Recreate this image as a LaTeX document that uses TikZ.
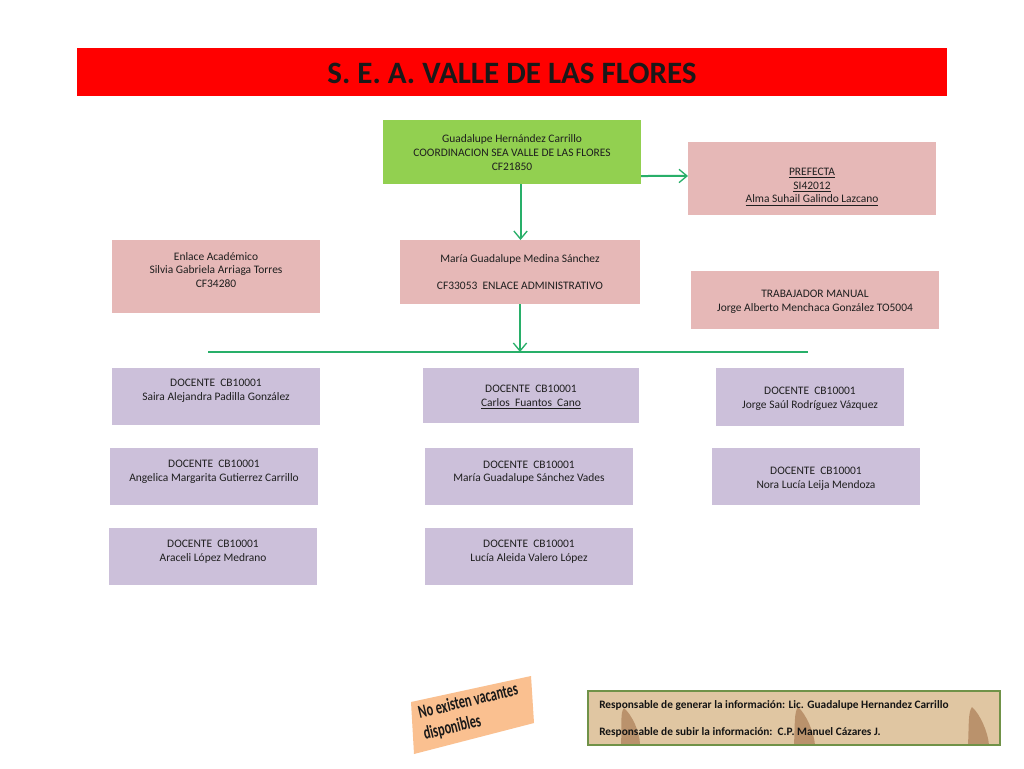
\documentclass[tikz,border=0pt]{standalone}
\usepackage{fontspec}
\setmainfont{Carlito}
\usetikzlibrary{arrows.meta,calc}
\definecolor{titlered}{RGB}{255,0,0}
\definecolor{boxgreen}{RGB}{146,208,80}
\definecolor{boxpink}{RGB}{230,184,183}
\definecolor{boxlav}{RGB}{204,192,218}
\definecolor{peach}{RGB}{250,192,144}
\definecolor{linkgreen}{RGB}{40,175,105}
\definecolor{parch}{RGB}{224,198,162}
\definecolor{frame}{RGB}{112,146,72}
\definecolor{fossil}{RGB}{150,95,55}
\tikzset{
  px/.style={x=0.75pt,y=-0.75pt},
  boxbase/.style={inner sep=0pt,outer sep=0pt,anchor=north west},
  greenbox/.style={boxbase,fill=boxgreen},
  pinkbox/.style={boxbase,fill=boxpink},
  lavbox/.style={boxbase,fill=boxlav},
  lbl/.style={align=center,font=\fontsize{8.6}{10.2}\selectfont,text=black!88,inner sep=0pt},
  footlbl/.style={font=\bfseries\fontsize{8.5}{10}\selectfont,text=black!92,inner sep=0pt,anchor=west},
  blob/.style={fill=fossil,opacity=.5},
  link/.style={draw=linkgreen,line width=1.5pt,-{Straight Barb[length=6pt,width=10pt,line width=1pt]}}
}
\begin{document}
\begin{tikzpicture}[px]
\useasboundingbox (0,0) rectangle (1024,768);
\fill[white] (0,0) rectangle (1024,768);

\node[boxbase,fill=titlered,minimum width=870*0.75pt,minimum height=48*0.75pt] (title) at (77,48) {};
\node[font=\bfseries\fontsize{23.3}{26}\selectfont,text=black!90,inner sep=0pt] (ttitle) at (512,73) {S. E. A. VALLE DE LAS FLORES};

\node[greenbox,minimum width=258*0.75pt,minimum height=64*0.75pt] (coord) at (383,120) {};
\node[pinkbox,minimum width=248*0.75pt,minimum height=73*0.75pt] (pref) at (688,142) {};
\node[pinkbox,minimum width=208*0.75pt,minimum height=73*0.75pt] (enl) at (112,240) {};
\node[pinkbox,minimum width=240*0.75pt,minimum height=64*0.75pt] (maria) at (400,240) {};
\node[pinkbox,minimum width=248*0.75pt,minimum height=58*0.75pt] (trab) at (691,271) {};
\node[lavbox,minimum width=208*0.75pt,minimum height=57*0.75pt] (d1) at (112,368) {};
\node[lavbox,minimum width=216*0.75pt,minimum height=55*0.75pt] (d2) at (423,368) {};
\node[lavbox,minimum width=188*0.75pt,minimum height=58*0.75pt] (d3) at (716,368) {};
\node[lavbox,minimum width=208*0.75pt,minimum height=57*0.75pt] (d4) at (110,448) {};
\node[lavbox,minimum width=208*0.75pt,minimum height=57*0.75pt] (d5) at (425,448) {};
\node[lavbox,minimum width=208*0.75pt,minimum height=57*0.75pt] (d6) at (712,448) {};
\node[lavbox,minimum width=208*0.75pt,minimum height=57*0.75pt] (d7) at (109,528) {};
\node[lavbox,minimum width=208*0.75pt,minimum height=57*0.75pt] (d8) at (425,528) {};

\node[lbl] (tcoord) at (512,152.5) {Guadalupe Hernández Carrillo\\COORDINACION SEA VALLE DE LAS FLORES\\CF21850};
\node[lbl] (tpref) at (812,187) {\underline{PREFECTA}\\\underline{SI42012}\\\underline{Alma Suhail Galindo Lazcano}};
\node[lbl] (tenl) at (216,270) {Enlace Académico\\Silvia Gabriela Arriaga Torres\\CF34280};
\node[lbl] (tmaria) at (520,272) {María Guadalupe Medina Sánchez\\[10pt]CF33053\ \ ENLACE ADMINISTRATIVO};
\node[lbl] (ttrab) at (815,302) {TRABAJADOR MANUAL\\Jorge Alberto Menchaca González TO5004};
\node[lbl] (t1) at (216,391) {DOCENTE\ \ CB10001\\Saira Alejandra Padilla González};
\node[lbl] (t2) at (531,397) {DOCENTE\ \ CB10001\\\underline{Carlos\ \ Fuantos\ \ Cano}};
\node[lbl] (t3) at (810,399) {DOCENTE\ \ CB10001\\Jorge Saúl Rodríguez Vázquez};
\node[lbl] (t4) at (214,472) {DOCENTE\ \ CB10001\\Angelica Margarita Gutierrez Carrillo};
\node[lbl] (t5) at (529,472) {DOCENTE\ \ CB10001\\María Guadalupe Sánchez Vades};
\node[lbl] (t6) at (816,478.5) {DOCENTE\ \ CB10001\\Nora Lucía Leija Mendoza};
\node[lbl] (t7) at (213,551.5) {DOCENTE\ \ CB10001\\Araceli López Medrano};
\node[lbl] (t8) at (529,551.5) {DOCENTE\ \ CB10001\\Lucía Aleida Valero López};

\coordinate (hl) at (208,352);
\coordinate (hr) at (808,352);
\coordinate (hm) at (520,352);
\draw[draw=linkgreen,line width=1.5pt] (hl) -- (hr);
\draw[link] ([xshift=6.4pt]coord.south) -- ([xshift=0.4pt]maria.north);
\draw[link] ([yshift=-18pt]coord.east) -- ([yshift=1.9pt]pref.west);
\draw[link] (maria.south) -- (hm);

% peach note
\fill[peach] (411,702) -- (531,676) -- (534,723) -- (414,754) -- cycle;
\node[rotate=13.5,font=\bfseries\fontsize{11.6}{13.6}\selectfont,text=black!90,inner sep=0pt] (note) at (471,713) {\scalebox{0.8}[1.2]{\begin{tabular}{@{}l@{}}No existen vacantes\\disponibles\end{tabular}}};

% footer
\begin{scope}
\clip (588,691) rectangle (1000,745);
\fill[parch] (588,691) rectangle (1000,745);
\fill[blob] (621,745) .. controls (622,725) and (620,712) .. (624,708) .. controls (632,715) and (640,732) .. (640,745) -- cycle;
\fill[blob] (794,745) .. controls (795,725) and (794,712) .. (798,707) .. controls (806,714) and (814,732) .. (815,745) -- cycle;
\fill[blob] (968,745) .. controls (969,725) and (968,712) .. (972,707) .. controls (980,714) and (988,732) .. (989,745) -- cycle;
\end{scope}
\node[boxbase,draw=frame,line width=2.2pt,minimum width=412*0.75pt,minimum height=54*0.75pt] (foot) at (588,691) {};
\node[footlbl] (f1) at (599,705) {Responsable de generar la información: Lic. Guadalupe Hernandez Carrillo};
\node[footlbl] (f2) at (599,732.5) {Responsable de subir la información:\ \ C.P. Manuel Cázares J.};
\end{tikzpicture}
\end{document}
